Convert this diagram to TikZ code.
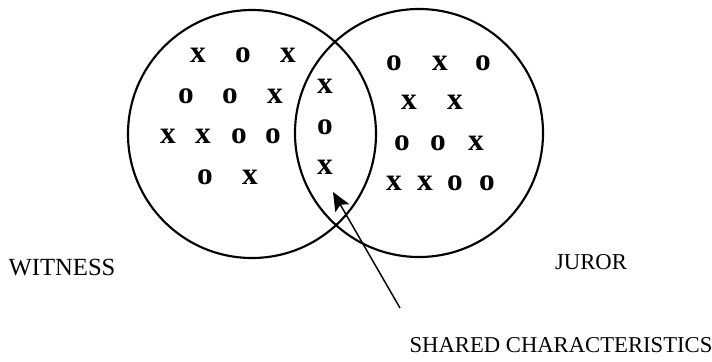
\documentclass[tikz,border=0pt]{standalone}
\usepackage{fontspec}
\setmainfont{Liberation Serif}
\usetikzlibrary{arrows.meta, positioning}

\tikzset{
  set/.style={draw, circle, line width=1.6pt, minimum size=248*0.75pt, inner sep=0pt},
  sym/.style={font=\fontsize{23.5}{23.5}\selectfont\bfseries, inner sep=0pt},
  lbl/.style={font=\fontsize{17}{17}\selectfont, inner sep=0pt},
}

\begin{document}
\begin{tikzpicture}[x=0.75pt, y=-0.75pt]
        \useasboundingbox (0,0) rectangle (712,361);
        \node[set] (witness) at (252,134) {};
        \node[set] (juror) at (419,133) {};

        % marks in the witness circle
        \foreach \x/\y/\m [count=\i] in {198/55/x, 243/55/o, 288/55/x,
                186/96/o, 230/96/o, 275/96/x,
                168/136/x, 203/136/x, 239/136/o, 273/136/o,
                205/177/o, 250/177/x}
            \node[sym] (w\i) at (\x,\y) {\m};

        % marks in the overlap
        \node[sym] (s1) at (325,86) {x};
        \node[sym] (s2) at (325,127) {o};
        \node[sym] (s3) at (325,167) {x};

        % marks in the juror circle
        \foreach \x/\y/\m [count=\i] in {394/63/o, 440/63/x, 483/63/o,
                409/102/x, 455/102/x,
                402/143/o, 438/143/o, 476/143/x,
                394/183/x, 425/183/x, 455/183/o, 487/183/o}
            \node[sym] (j\i) at (\x,\y) {\m};

        \node[lbl, font=\fontsize{18.5}{18.5}\selectfont] (wlab) at (62,268) {WITNESS};
        \node[lbl] (jlab) at (591,262) {JUROR};
        \node[lbl] (slab) at (561,345) {SHARED CHARACTERISTICS};

        \coordinate (tip) at (333,192);
        \coordinate (tail) at (400,308);
        \path[-{Stealth[length=14pt, width=12pt, inset=3pt]}, line width=1.1pt]
            (tail) edge (tip);
\end{tikzpicture}
\end{document}
